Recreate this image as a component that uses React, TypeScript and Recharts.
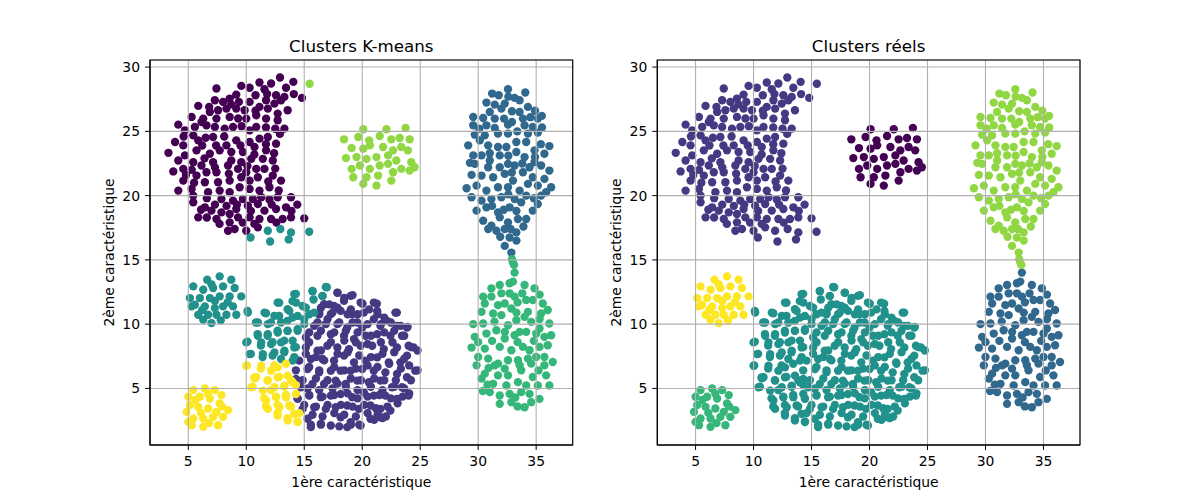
import React from "react";
import { ScatterChart, Scatter, XAxis, YAxis, CartesianGrid, ReferenceArea } from "recharts";

// viridis, 7 steps (cluster label 0..6)
const VIRIDIS_7 = ["#440154", "#443983", "#31688e", "#21918c", "#35b779", "#90d743", "#fde725"];

const X_TICKS = [5, 10, 15, 20, 25, 30, 35];
const Y_TICKS = [5, 10, 15, 20, 25, 30];
const X_DOMAIN: [number, number] = [1.7, 38.15];
const Y_DOMAIN: [number, number] = [0.6, 30.55];

type Pt = [number, number];

// big blob, top left
const topLeftMain: Pt[] = [
  [12.91, 29.19], [14.06, 28.85], [12.14, 28.72], [11.14, 28.8], [9.57, 28.54], [10.29, 28.39],
  [11.57, 28.28], [13.43, 28.39], [7.43, 28.33], [14.8, 27.6], [13.29, 27.68], [12.57, 27.81],
  [10.8, 27.81], [9.14, 27.86], [8.57, 27.55], [7.29, 27.42], [8.0, 27.29], [6.8, 26.9],
  [5.86, 26.98], [9.37, 27.29], [10.29, 27.29], [11.71, 27.42], [12.43, 27.16], [13.0, 27.42],
  [13.57, 26.64], [12.71, 26.38], [11.86, 26.77], [11.14, 26.9], [9.86, 26.64], [9.14, 26.77],
  [8.29, 26.77], [7.57, 26.64], [6.86, 26.51], [6.29, 25.99], [5.29, 26.12], [4.14, 25.52],
  [4.71, 25.08], [5.57, 25.34], [6.14, 25.73], [7.43, 25.99], [8.57, 26.12], [10.0, 25.99],
  [10.86, 26.25], [11.71, 25.99], [12.71, 25.86], [13.29, 25.21], [10.86, 25.34], [10.29, 25.08],
  [8.86, 25.34], [8.14, 25.21], [7.29, 25.34], [6.57, 25.47], [5.43, 24.69], [3.86, 24.17],
  [3.29, 23.33], [4.57, 23.91], [5.86, 24.3], [7.14, 24.56], [8.29, 23.91], [9.14, 24.3],
  [10.29, 24.17], [11.14, 24.43], [11.86, 24.56], [12.57, 24.04], [11.71, 23.52], [10.71, 23.78],
  [9.71, 23.39], [8.71, 23.39], [7.71, 23.52], [6.86, 23.26], [5.71, 23.52], [4.71, 23.13],
  [4.14, 22.73], [3.71, 21.88], [4.57, 22.08], [5.43, 22.6], [6.14, 22.34], [7.14, 22.6],
  [8.71, 22.73], [9.57, 22.6], [10.43, 22.86], [11.43, 22.86], [12.29, 22.73], [11.57, 22.08],
  [10.86, 22.08], [10.0, 21.82], [9.29, 22.08], [8.43, 22.34], [7.43, 21.82], [6.57, 21.82],
  [5.71, 21.56], [4.57, 21.17], [4.14, 20.39], [5.29, 20.52], [6.43, 21.04], [7.57, 21.04],
  [8.57, 21.17], [9.57, 21.43], [10.29, 21.17], [11.0, 21.43], [12.29, 21.56], [13.0, 21.17],
  [12.0, 20.65], [11.14, 20.39], [10.29, 20.52], [9.43, 20.65], [8.57, 20.26], [7.71, 20.39],
  [6.71, 20.26], [5.43, 20.0], [5.43, 19.48], [6.43, 19.09], [7.0, 18.83], [7.86, 19.74],
  [8.86, 19.61], [9.71, 19.74], [10.57, 19.74], [11.29, 19.87], [12.71, 19.87], [13.86, 19.87],
  [13.43, 19.09], [12.57, 18.96], [11.57, 18.83], [11.0, 19.35], [10.14, 19.22], [9.14, 18.96],
  [8.57, 18.57], [7.86, 18.7], [5.86, 18.31], [7.43, 18.18], [8.57, 17.92], [9.29, 18.31],
  [10.29, 18.31], [11.14, 18.18], [12.14, 18.18], [13.14, 18.18], [13.86, 18.31], [15.0, 18.23],
  [8.43, 17.27], [9.0, 17.4], [10.0, 17.27], [11.0, 17.53],
  [8.7, 27.1], [10.8, 26.6], [9.3, 26.0], [9.6, 25.4], [11.7, 25.3], [12.5, 25.2],
  [4.6, 24.6], [6.5, 24.5], [8.1, 24.6], [12.9, 24.8], [6.2, 23.9], [7.4, 23.9],
  [9.5, 23.9], [11.7, 24.0], [10.7, 23.2], [12.4, 23.3], [6.4, 22.9], [5.3, 22.0],
  [7.3, 22.2], [10.1, 22.3], [12.5, 22.1], [4.8, 21.6], [8.5, 21.7], [5.5, 21.0],
  [11.9, 21.1], [12.8, 20.4], [6.6, 19.8], [12.0, 19.7], [7.3, 19.3], [8.3, 19.2],
  [9.2, 19.3], [12.2, 19.3], [14.4, 19.3], [10.4, 18.8], [6.1, 18.9], [13.9, 18.8],
  [6.6, 18.3], [7.7, 17.8], [9.7, 17.9], [10.7, 17.8], [12.6, 17.9], [11.8, 27.9], [14.1, 27.9],
];
const topLeftLower: Pt[] = [
  [10.37, 16.74], [11.86, 17.27], [12.94, 17.4], [13.86, 17.14], [15.43, 17.19], [12.06, 16.43], [13.66, 16.59],
];
const topLeftStray: Pt[] = [[15.46, 28.7]];

// small blob, top middle
const upperSmall: Pt[] = [
  [20.09, 25.16], [22.09, 25.16], [23.74, 25.26], [18.43, 24.38], [19.66, 24.56], [20.6, 24.3],
  [21.51, 24.64], [22.51, 24.38], [23.23, 24.48], [24.09, 24.38], [19.09, 23.7], [20.09, 23.65],
  [20.66, 23.91], [21.8, 23.78], [22.66, 23.52], [23.37, 23.78], [23.94, 23.52], [18.6, 22.92],
  [19.51, 23.0], [20.37, 22.86], [21.23, 23.0], [22.23, 23.13], [22.94, 22.73], [24.23, 22.6],
  [24.51, 22.21], [19.09, 22.08], [19.8, 22.34], [20.66, 22.08], [21.51, 22.34], [22.23, 22.47],
  [23.37, 22.08], [24.09, 21.95], [19.23, 21.43], [20.37, 21.43], [21.37, 21.56], [22.66, 21.82],
  [20.09, 20.91], [21.23, 20.78], [22.51, 21.17],
];

// right column, upper blob
const rightUpper: Pt[] = [
  [32.57, 28.28], [31.2, 27.94], [31.77, 27.81], [33.14, 27.6], [34.06, 28.02], [30.71, 27.24],
  [31.43, 27.08], [32.29, 27.16], [33.57, 27.42], [34.29, 26.9], [32.91, 26.56], [33.57, 26.51],
  [32.0, 26.77], [31.0, 26.51], [29.57, 26.12], [30.43, 26.04], [31.43, 25.99], [32.23, 25.99],
  [32.91, 25.73], [33.86, 25.99], [34.71, 25.34], [35.49, 26.2], [35.14, 25.99], [29.57, 25.47],
  [30.71, 25.47], [31.43, 25.26], [32.57, 25.52], [34.0, 25.47], [33.37, 25.0], [29.71, 24.74],
  [30.57, 24.69], [31.71, 24.82], [32.57, 24.82], [34.29, 24.82], [35.14, 24.9], [29.14, 23.91],
  [30.14, 24.3], [30.86, 23.91], [31.71, 23.78], [32.43, 23.78], [33.29, 24.17], [34.14, 24.17],
  [34.86, 23.52], [36.14, 23.85], [35.71, 23.26], [29.57, 23.13], [30.29, 23.13], [31.0, 22.73],
  [31.86, 23.13], [32.57, 22.47], [33.29, 23.39], [34.0, 23.0], [34.86, 22.6], [29.29, 22.55],
  [29.71, 22.47], [30.86, 22.21], [31.86, 22.21], [33.14, 22.34], [34.43, 22.21], [35.43, 22.34],
  [36.14, 21.95], [29.43, 21.61], [30.29, 21.56], [31.29, 21.43], [32.29, 21.69], [33.0, 21.17],
  [33.86, 21.82], [34.71, 21.43], [35.71, 21.3], [29.0, 20.57], [29.86, 20.78], [30.71, 20.39],
  [31.71, 20.65], [32.57, 20.65], [33.57, 20.39], [34.29, 20.91], [35.14, 20.78], [36.29, 20.65],
  [29.43, 19.87], [30.29, 19.61], [31.14, 19.74], [32.0, 19.87], [33.14, 19.74], [34.14, 20.0],
  [35.43, 20.0], [35.86, 20.26], [29.86, 18.83], [30.71, 19.09], [31.71, 18.7], [32.71, 19.09],
  [33.71, 19.48], [34.71, 18.83], [35.14, 19.35], [30.43, 18.05], [31.14, 17.66], [31.86, 18.31],
  [32.57, 17.92], [33.43, 18.18], [34.14, 18.18], [30.86, 17.4], [31.57, 17.27], [32.29, 17.4],
  [33.29, 17.14], [32.71, 16.74], [32.29, 16.09], [32.86, 15.57],
  [32.6, 27.7], [34.9, 26.6], [34.5, 26.1], [30.1, 25.2], [35.5, 25.3], [35.4, 24.0],
  [31.0, 23.3], [32.6, 23.1], [34.9, 23.0], [33.8, 22.5], [32.9, 21.8], [32.6, 20.1],
  [34.8, 19.8], [31.2, 19.2], [32.2, 18.9], [33.3, 18.8], [33.9, 17.6], [32.8, 17.4],
  [31.9, 16.8], [33.3, 16.5],
];
const rightBridge: Pt[] = [[32.91, 15.05], [33.0, 14.79], [33.09, 14.61]];

// right column, lower blob
const rightLower: Pt[] = [
  [33.14, 14.01], [33.0, 13.31], [32.71, 13.18], [31.86, 13.05], [31.14, 12.79], [34.0, 13.05],
  [34.86, 12.79], [30.43, 12.14], [31.14, 12.14], [32.0, 12.4], [32.71, 12.4], [33.14, 12.14],
  [34.14, 11.88], [34.71, 11.88], [35.57, 11.61], [30.57, 11.61], [31.71, 11.48], [32.29, 11.61],
  [32.86, 11.22], [34.29, 10.96], [35.43, 10.83], [30.29, 10.96], [31.29, 10.83], [32.0, 10.7],
  [33.29, 10.31], [34.0, 10.57], [29.57, 10.0], [30.43, 10.05], [31.57, 9.53], [32.57, 9.92],
  [33.57, 9.4], [34.57, 10.18], [35.29, 9.66], [36.14, 10.05], [36.29, 9.14], [29.71, 9.01],
  [30.71, 9.27], [32.29, 8.88], [33.14, 9.14], [34.14, 9.4], [35.0, 9.27], [35.71, 9.01],
  [29.43, 8.18], [30.57, 8.1], [31.86, 8.23], [32.86, 7.97], [33.86, 8.23], [34.43, 7.97],
  [35.29, 8.23], [36.0, 8.36], [36.43, 7.06], [30.0, 7.45], [30.86, 7.32], [31.71, 6.93],
  [32.57, 7.19], [33.43, 7.19], [34.29, 7.32], [35.0, 7.45], [35.71, 7.45], [29.86, 6.8],
  [31.43, 6.8], [32.29, 6.54], [33.57, 6.8], [34.57, 6.93], [35.71, 6.8], [30.57, 6.15],
  [31.71, 6.02], [32.57, 6.02], [33.71, 6.41], [34.71, 5.89], [35.86, 6.02], [30.29, 5.76],
  [31.29, 5.36], [32.43, 5.23], [33.43, 5.49], [34.14, 5.23], [35.14, 5.23], [36.14, 5.23],
  [31.0, 4.71], [31.86, 4.45], [32.71, 4.58], [33.71, 4.71], [34.43, 4.58], [35.29, 4.19],
  [31.86, 3.8], [32.86, 3.93], [34.0, 3.54], [34.57, 3.93],
  [33.8, 12.4], [35.3, 12.3], [33.4, 11.7], [33.3, 10.9], [36.0, 11.1], [31.4, 10.2],
  [35.3, 10.4], [32.3, 9.4], [30.0, 8.6], [31.2, 8.7], [33.4, 8.6], [34.8, 8.7],
  [30.9, 6.6], [35.2, 6.4], [30.8, 5.3], [30.4, 4.8], [33.2, 4.3], [33.4, 3.6],
];

// big blob, bottom middle: upper-left part, lower-left part, right part
const midLeftUpper: Pt[] = [
  [10.14, 10.9], [11.57, 10.9], [12.71, 11.68], [14.14, 12.33], [15.71, 12.58], [16.86, 12.89],
  [16.57, 12.2], [14.29, 11.68], [13.57, 11.16], [15.14, 11.29], [15.86, 10.9], [12.43, 10.65],
  [11.0, 10.13], [11.86, 10.0], [13.0, 10.13], [14.0, 10.52], [15.0, 10.39], [11.0, 9.1],
  [11.86, 9.22], [12.71, 9.35], [13.57, 9.48], [14.43, 9.61], [10.0, 8.58], [11.29, 8.58],
  [12.14, 8.45], [13.0, 8.58], [14.0, 8.71], [10.29, 7.67], [11.43, 7.67], [12.43, 7.8],
  [13.29, 7.93], [14.14, 8.19], [13.0, 7.29], [14.0, 7.16],
  [16.95, 12.87], [15.72, 12.56], [14.28, 12.36], [16.58, 12.18], [15.8, 11.92], [12.84, 11.67],
  [13.99, 11.79], [14.86, 11.41], [10.11, 11.03], [11.7, 10.85], [12.84, 10.64], [13.71, 11.03],
  [14.43, 10.64], [15.43, 10.77], [10.83, 10.13], [12.13, 10.13], [13.56, 10.26], [15.0, 10.0],
  [10.98, 9.23], [11.84, 9.1], [12.7, 9.49], [13.56, 9.49], [14.43, 9.49], [10.11, 8.64],
  [11.26, 8.33], [12.27, 8.59], [13.28, 8.72], [14.28, 8.21], [10.4, 7.69], [11.41, 7.44],
  [12.27, 7.56], [13.28, 7.82], [14.14, 7.44],
];
const midLeftLower: Pt[] = [
  [10.0, 6.77], [11.29, 6.77], [12.14, 6.38], [10.86, 5.87], [11.86, 5.61], [12.71, 5.87],
  [13.57, 6.0], [10.43, 5.09], [11.43, 4.83], [12.43, 5.09], [13.29, 5.22], [14.0, 5.48],
  [11.71, 4.06], [12.57, 4.32], [13.43, 4.32], [14.29, 4.57], [11.86, 3.41], [12.86, 3.54],
  [13.71, 3.67], [12.71, 2.89], [13.57, 2.51], [14.43, 2.38], [14.14, 3.02], [12.71, 6.64],
  [10.71, 5.78],
  [10.06, 6.79], [11.26, 6.54], [12.41, 6.79], [13.42, 6.92], [10.69, 5.85], [11.84, 5.64],
  [12.84, 5.9], [13.85, 5.64], [10.55, 5.13], [12.13, 4.87], [13.28, 5.13], [14.28, 5.26],
  [11.55, 4.23], [12.56, 4.36], [13.42, 4.49], [11.7, 3.59], [12.7, 3.72], [13.85, 3.59],
  [12.7, 3.08], [13.56, 2.69], [14.57, 3.08], [14.43, 2.44],
];
const midRight: Pt[] = [
  [17.86, 12.45], [19.0, 12.2], [19.86, 11.68], [21.0, 11.68], [16.71, 11.55], [17.57, 11.42],
  [18.43, 11.81], [16.29, 10.9], [17.29, 10.78], [18.14, 11.03], [19.14, 10.78], [20.14, 10.9],
  [21.29, 11.03], [22.86, 10.9], [22.14, 10.26], [21.0, 10.39], [19.57, 10.13], [15.86, 9.87],
  [16.86, 10.0], [17.86, 10.0], [18.71, 9.74], [20.0, 9.74], [21.57, 9.87], [23.0, 9.87],
  [23.86, 9.74], [15.14, 8.97], [16.14, 9.1], [17.29, 9.22], [18.43, 9.1], [19.29, 8.84],
  [20.29, 9.1], [21.29, 9.22], [22.43, 9.1], [23.43, 9.1], [24.43, 8.19], [24.0, 8.32],
  [15.14, 8.19], [16.14, 7.93], [17.0, 8.32], [17.86, 8.19], [18.86, 8.06], [19.86, 8.32],
  [20.86, 8.32], [21.86, 8.06], [23.0, 8.19], [23.86, 7.55], [14.57, 7.16], [15.57, 7.29],
  [16.57, 7.29], [17.57, 7.16], [18.43, 7.55], [19.29, 7.03], [20.29, 7.16], [21.29, 7.42],
  [22.29, 7.03], [23.29, 7.03], [24.57, 6.38], [14.29, 5.74], [15.29, 6.51], [16.29, 6.25],
  [17.29, 6.38], [18.14, 6.38], [19.0, 6.38], [20.0, 6.51], [21.0, 6.38], [22.0, 6.25],
  [23.0, 6.12], [23.86, 5.87], [14.71, 5.09], [15.71, 5.35], [16.71, 5.35], [17.71, 5.61],
  [18.57, 5.35], [19.57, 5.61], [20.57, 5.48], [21.57, 5.61], [22.57, 5.09], [23.43, 5.09],
  [24.0, 4.44], [14.43, 4.19], [15.43, 4.44], [16.43, 4.32], [17.29, 4.44], [18.14, 4.57],
  [19.14, 4.32], [20.14, 4.7], [21.0, 4.44], [22.0, 4.44], [23.0, 4.19], [14.86, 3.41],
  [15.86, 3.54], [16.86, 3.41], [17.71, 3.54], [18.71, 3.67], [19.71, 3.41], [20.71, 3.67],
  [21.57, 3.41], [22.43, 3.28], [15.29, 2.64], [16.43, 2.25], [17.29, 2.12], [18.14, 2.76],
  [19.0, 2.38], [19.86, 2.12], [20.71, 2.64], [21.57, 2.76], [15.57, 1.99], [18.71, 1.99],
  [17.87, 12.44], [19.17, 12.26], [18.45, 12.05], [17.16, 11.54], [17.87, 11.28], [20.03, 11.59],
  [21.26, 11.59], [19.02, 11.15], [16.44, 11.28], [16.29, 10.77], [17.44, 10.9], [18.74, 10.77],
  [19.6, 10.77], [20.6, 11.15], [21.32, 10.77], [22.99, 10.9], [21.9, 10.51], [16.15, 10.13],
  [17.01, 10.38], [18.02, 10.13], [19.17, 10.13], [20.46, 10.0], [21.61, 10.0], [22.47, 10.13],
  [23.33, 9.87], [23.91, 9.79], [15.43, 9.36], [16.44, 9.49], [17.59, 9.36], [18.59, 9.49],
  [19.6, 9.36], [20.75, 9.1], [21.9, 9.36], [22.76, 9.49], [23.62, 9.1], [15.43, 8.59],
  [16.44, 7.95], [17.3, 8.59], [18.45, 8.72], [19.45, 8.59], [20.46, 8.46], [21.61, 8.59],
  [22.61, 8.59], [24.2, 8.21], [24.77, 7.95], [15.14, 7.69], [16.01, 7.44], [16.72, 7.18],
  [17.87, 7.69], [18.74, 7.82], [19.74, 7.56], [20.75, 7.44], [21.75, 7.69], [22.76, 7.82],
  [23.62, 7.31], [14.28, 6.41], [15.43, 6.67], [16.29, 6.41], [17.59, 6.67], [18.45, 6.41],
  [19.45, 6.54], [20.46, 6.79], [21.32, 6.67], [22.33, 6.92], [23.33, 6.54], [24.77, 6.41],
  [24.05, 6.79], [14.86, 5.64], [16.01, 5.77], [17.01, 5.64], [17.87, 5.38], [19.02, 5.77],
  [19.89, 5.64], [21.03, 5.77], [21.9, 5.64], [22.9, 5.64], [24.2, 5.64], [15.29, 5.0],
  [16.29, 4.87], [17.44, 5.0], [18.59, 5.13], [19.6, 4.87], [20.75, 5.13], [21.75, 4.87],
  [22.76, 5.13], [23.62, 5.0], [14.43, 4.23], [15.43, 4.49], [16.58, 4.36], [17.59, 4.49],
  [18.74, 4.62], [19.6, 4.23], [20.46, 4.36], [21.47, 4.49], [22.47, 4.23], [23.48, 4.36],
  [24.05, 4.62], [15.0, 3.72], [16.01, 3.59], [17.01, 3.72], [18.16, 3.72], [19.17, 3.59],
  [20.17, 3.72], [21.18, 3.46], [22.18, 3.59], [23.05, 3.85], [15.72, 2.95], [16.58, 2.82],
  [17.59, 3.08], [18.45, 2.95], [19.45, 2.82], [20.46, 3.08], [21.32, 2.95], [22.04, 2.82],
  [15.57, 2.18], [16.44, 2.18], [18.02, 2.05], [19.02, 2.18], [19.74, 2.18], [21.03, 2.56],
  [21.75, 2.69],
];

// small blobs, left
const leftUpperSmall: Pt[] = [
  [7.71, 13.72], [6.63, 13.46], [8.71, 13.46], [5.43, 12.94], [6.29, 12.68], [7.14, 12.81],
  [8.0, 12.94], [9.0, 12.81], [5.14, 12.03], [6.0, 12.03], [6.86, 12.03], [7.71, 12.16],
  [8.57, 12.16], [9.57, 12.16], [5.57, 11.51], [6.43, 11.38], [7.29, 11.25], [8.0, 11.38],
  [8.86, 11.38], [5.29, 11.38], [5.86, 10.73], [6.71, 10.73], [7.43, 10.73], [8.29, 10.73],
  [9.14, 10.73], [6.29, 10.34], [7.0, 10.08],
  [7.0, 13.1], [7.3, 11.8], [6.2, 11.1], [8.4, 11.7], [7.8, 10.3],
];
const leftLowerSmall: Pt[] = [
  [5.43, 4.87], [6.43, 5.0], [7.29, 4.87], [7.86, 4.48], [5.0, 4.35], [6.0, 4.35], [6.86, 4.22],
  [7.71, 3.83], [8.43, 3.31], [5.14, 3.7], [4.86, 3.18], [5.86, 3.57], [6.71, 3.44], [7.43, 3.18],
  [5.43, 2.66], [6.29, 2.66], [7.14, 2.79], [8.0, 2.79], [5.29, 2.14], [6.29, 2.01], [7.57, 2.14],
  [5.0, 2.4],
  [6.1, 3.1], [6.7, 4.6], [7.9, 3.6], [5.6, 4.1], [6.8, 2.3],
];

// which label each group gets: true clusters and k-means clusters
const GROUPS = [
  { points: topLeftMain, real: 1, kmeans: 0 },
  { points: topLeftLower, real: 1, kmeans: 3 },
  { points: topLeftStray, real: 1, kmeans: 5 },
  { points: upperSmall, real: 0, kmeans: 5 },
  { points: rightUpper, real: 5, kmeans: 2 },
  { points: rightBridge, real: 5, kmeans: 4 },
  { points: rightLower, real: 2, kmeans: 4 },
  { points: midLeftUpper, real: 3, kmeans: 3 },
  { points: midLeftLower, real: 3, kmeans: 6 },
  { points: midRight, real: 3, kmeans: 1 },
  { points: leftUpperSmall, real: 6, kmeans: 3 },
  { points: leftLowerSmall, real: 4, kmeans: 6 },
];

const FONT = "'DejaVu Sans', sans-serif";
const TICK_STYLE = { fill: "#000", fontSize: 13.9, fontFamily: FONT };

const Dot = (props: any) => <circle cx={props.cx} cy={props.cy} r={4.17} fill={props.fill} />;

function Panel({ labelKey, left, margin }: { labelKey: "real" | "kmeans"; left: number; margin: any }) {
  const series = VIRIDIS_7.map((color, label) => ({
    color,
    data: GROUPS.filter((g) => g[labelKey] === label).flatMap((g) => g.points.map(([x, y]) => ({ x, y }))),
  }));

  const hiddenAxis = { tick: false, axisLine: false, tickLine: false } as const;

  return (
    <>
      {/* points */}
      <div style={{ position: "absolute", left, top: 0 }}>
        <ScatterChart width={600} height={500} margin={margin}>
          <XAxis type="number" dataKey="x" domain={X_DOMAIN} ticks={X_TICKS} allowDataOverflow height={30} {...hiddenAxis} />
          <YAxis type="number" dataKey="y" domain={Y_DOMAIN} ticks={Y_TICKS} allowDataOverflow width={40} {...hiddenAxis} />
          {series.map((s, i) => (
            <Scatter key={i} data={s.data} fill={s.color} shape={Dot} isAnimationActive={false} />
          ))}
        </ScatterChart>
      </div>
      {/* grid, ticks and frame drawn over the points, like matplotlib */}
      <div style={{ position: "absolute", left, top: 0 }}>
        <ScatterChart width={600} height={500} margin={margin}>
          <CartesianGrid stroke="#b0b0b0" strokeWidth={1.1} />
          <XAxis
            type="number"
            dataKey="x"
            domain={X_DOMAIN}
            ticks={X_TICKS}
            allowDataOverflow
            height={30}
            stroke="#000"
            tickSize={5}
            tickMargin={6}
            tick={TICK_STYLE}
          />
          <YAxis
            type="number"
            dataKey="y"
            domain={Y_DOMAIN}
            ticks={Y_TICKS}
            allowDataOverflow
            width={40}
            stroke="#000"
            tickSize={5}
            tickMargin={5}
            tick={TICK_STYLE}
          />
          <Scatter data={[]} isAnimationActive={false} />
          <ReferenceArea
            x1={X_DOMAIN[0]}
            x2={X_DOMAIN[1]}
            y1={Y_DOMAIN[0]}
            y2={Y_DOMAIN[1]}
            fill="none"
            fillOpacity={0}
            stroke="#000"
            strokeOpacity={1}
            strokeWidth={1.1}
          />
        </ScatterChart>
      </div>
    </>
  );
}

export default function App() {
  return (
    <div style={{ position: "fixed", left: 0, top: 0, width: 1200, height: 500, background: "#fff", fontFamily: FONT }}>
      <Panel labelKey="kmeans" left={0} margin={{ top: 60, right: 27.3, bottom: 25, left: 110 }} />
      <Panel labelKey="real" left={600} margin={{ top: 60, right: 120, bottom: 25, left: 17.3 }} />
      <svg width={1200} height={500} style={{ position: "absolute", left: 0, top: 0, pointerEvents: "none" }}>
        <g fontFamily={FONT} fill="#000">
          <text x={361.35} y={51.7} fontSize={16.7} textAnchor="middle">Clusters K-means</text>
          <text x={868.65} y={51.7} fontSize={16.7} textAnchor="middle">Clusters réels</text>
          <text x={361.35} y={487} fontSize={13.9} textAnchor="middle">1ère caractéristique</text>
          <text x={868.65} y={487} fontSize={13.9} textAnchor="middle">1ère caractéristique</text>
          <text x={113.5} y={252.5} fontSize={13.9} textAnchor="middle" transform="rotate(-90 113.5 252.5)">
            2ème caractéristique
          </text>
          <text x={620.8} y={252.5} fontSize={13.9} textAnchor="middle" transform="rotate(-90 620.8 252.5)">
            2ème caractéristique
          </text>
        </g>
      </svg>
    </div>
  );
}
